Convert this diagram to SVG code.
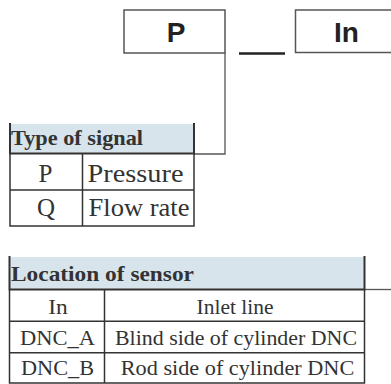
<svg xmlns="http://www.w3.org/2000/svg" width="391" height="384" viewBox="0 0 391 384">
<style>
.box{fill:#fff;stroke:#555;stroke-width:1.5}
.conn{fill:none;stroke:#555;stroke-width:1.3}
.hdr{fill:#d8e4ec;stroke:none}
.thick{fill:none;stroke:#333;stroke-width:2}
.thin{fill:none;stroke:#333;stroke-width:1.5}
.code{font-family:"Liberation Sans",Arial,sans-serif;font-weight:bold;font-size:28px;fill:#222;text-anchor:middle}
.th{font-family:"Liberation Serif","Times New Roman",serif;font-weight:bold;fill:#333}
.t1{font-family:"Liberation Serif","Times New Roman",serif;font-size:25px;fill:#333;text-anchor:middle}
.t2{font-family:"Liberation Serif","Times New Roman",serif;font-size:20px;fill:#333;text-anchor:middle}
</style>
<rect width="391" height="384" fill="#fff"/>
<g id="code-P">
<rect class="box" x="124" y="10" width="101" height="43"/>
<text class="code" x="176" y="41.5">P</text>
</g>
<g id="separator">
<line x1="239" y1="53.5" x2="285" y2="53.5" stroke="#222" stroke-width="2.5"/>
</g>
<g id="code-In">
<rect class="box" x="295.5" y="10" width="110" height="42.5"/>
<text class="code" x="346.5" y="41.5">In</text>
</g>
<g id="connectors">
<path class="conn" d="M225,53 V154 H194"/>
<path class="conn" d="M364.5,289.5 H391"/>
</g>
<g id="table-signal">
<rect class="hdr" x="10" y="124" width="184" height="30"/>
<path class="thick" d="M10,123 V154 M194,123 V154 M9,153.5 H195"/>
<path class="thin" d="M10,154 V226 H194 V154 M10,190 H194 M82.5,154 V226"/>
<text class="th" x="11" y="144.7" font-size="22" textLength="132" lengthAdjust="spacingAndGlyphs">Type of signal</text>
<text class="t1" x="45.5" y="181.5">P</text>
<text class="t1" x="135.5" y="181.5" textLength="96" lengthAdjust="spacingAndGlyphs">Pressure</text>
<text class="t1" x="46" y="216">Q</text>
<text class="t1" x="139" y="216" textLength="101" lengthAdjust="spacingAndGlyphs">Flow rate</text>
</g>
<g id="table-location">
<rect class="hdr" x="9.5" y="257" width="355" height="32.5"/>
<path class="thick" d="M9.5,256 V290 M364.5,256 V290 M8.5,289.5 H365.5"/>
<path class="thin" d="M9.5,290 V383 H364.5 V290 M9.5,321.3 H364.5 M9.5,352.7 H364.5 M104.5,290 V383"/>
<text class="th" x="11" y="281" font-size="21" textLength="183" lengthAdjust="spacingAndGlyphs">Location of sensor</text>
<text class="t2" x="58" y="314" textLength="19.5" lengthAdjust="spacingAndGlyphs">In</text>
<text class="t2" x="235" y="314" textLength="77" lengthAdjust="spacingAndGlyphs">Inlet line</text>
<text class="t2" x="57.5" y="345.3" textLength="75" lengthAdjust="spacingAndGlyphs">DNC_A</text>
<text class="t2" x="236" y="345.3" textLength="242" lengthAdjust="spacingAndGlyphs">Blind side of cylinder DNC</text>
<text class="t2" x="57.5" y="375.3" textLength="73" lengthAdjust="spacingAndGlyphs">DNC_B</text>
<text class="t2" x="237.5" y="375.3" textLength="233.5" lengthAdjust="spacingAndGlyphs">Rod side of cylinder DNC</text>
</g>
</svg>
